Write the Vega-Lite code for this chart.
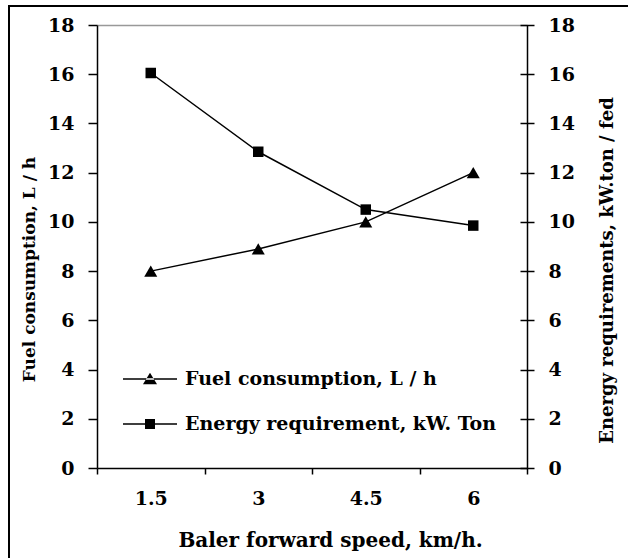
{
  "$schema": "https://vega.github.io/schema/vega-lite/v6.json",
  "autosize": "none",
  "padding": {"left": 9, "top": 6, "right": 0, "bottom": 0},
  "width": 640,
  "height": 560,
  "background": "white",
  "config": {
    "view": {"stroke": "black", "strokeWidth": 2},
    "axis": {
      "labelFont": "DejaVu Serif",
      "labelFontWeight": "bold",
      "labelFontSize": 19,
      "labelColor": "black",
      "titleFont": "DejaVu Serif",
      "titleFontWeight": "bold",
      "titleFontSize": 17,
      "titleColor": "black",
      "domainColor": "black",
      "domainWidth": 1.5,
      "tickColor": "black",
      "tickWidth": 1.5,
      "grid": false
    }
  },
  "data": {
    "values": [
      {"speed": "1.5", "series": "Fuel consumption, L / h", "value": 8},
      {"speed": "3", "series": "Fuel consumption, L / h", "value": 8.9},
      {"speed": "4.5", "series": "Fuel consumption, L / h", "value": 10},
      {"speed": "6", "series": "Fuel consumption, L / h", "value": 12},
      {"speed": "1.5", "series": "Energy requirement, kW. Ton", "value": 16.05},
      {"speed": "3", "series": "Energy requirement, kW. Ton", "value": 12.85},
      {"speed": "4.5", "series": "Energy requirement, kW. Ton", "value": 10.5},
      {"speed": "6", "series": "Energy requirement, kW. Ton", "value": 9.85}
    ]
  },
  "layer": [
    {
      "transform": [{"filter": "datum.series === 'Fuel consumption, L / h'"}],
      "encoding": {
        "x": {
          "field": "speed", "type": "nominal", "sort": ["1.5", "3", "4.5", "6"], "bandPosition": 0.5,
          "scale": {"type": "band", "range": [88, 518], "paddingInner": 0, "paddingOuter": 0},
          "axis": {
            "orient": "bottom", "offset": -98, "labelAngle": 0, "tickBand": "extent",
            "tickSize": 6, "labelPadding": 15,
            "title": "Baler forward speed, km/h.", "titleFontSize": 20,
            "titleX": 321, "titleY": 72, "titleBaseline": "middle", "titleAlign": "center"
          }
        },
        "y": {
          "field": "value", "type": "quantitative",
          "scale": {"domain": [0, 18], "range": [462, 19], "nice": false},
          "axis": {
            "orient": "left", "offset": -88, "values": [0, 2, 4, 6, 8, 10, 12, 14, 16, 18],
            "tickSize": 9, "labelPadding": 14,
            "title": "Fuel consumption, L / h",
            "titleAngle": 270, "titleX": -68, "titleY": 263, "titleBaseline": "middle", "titleAlign": "center"
          }
        }
      },
      "layer": [
        {"mark": {"type": "line", "color": "black", "strokeWidth": 1.5}},
        {"mark": {"type": "point", "shape": "triangle-up", "filled": true, "color": "black", "size": 170, "opacity": 1}}
      ]
    },
    {
      "transform": [{"filter": "datum.series === 'Energy requirement, kW. Ton'"}],
      "encoding": {
        "x": {
          "field": "speed", "type": "nominal", "sort": ["1.5", "3", "4.5", "6"], "bandPosition": 0.5,
          "scale": {"type": "band", "range": [88, 518], "paddingInner": 0, "paddingOuter": 0},
          "axis": null
        },
        "y": {
          "field": "value", "type": "quantitative",
          "scale": {"domain": [0, 18], "range": [462, 19], "nice": false},
          "axis": {
            "orient": "right", "offset": -129, "values": [0, 2, 4, 6, 8, 10, 12, 14, 16, 18],
            "domain": false, "tickSize": 14, "labelPadding": 14,
            "title": "Energy requirements, kW.ton / fed", "titleFontSize": 18,
            "titleAngle": 270, "titleX": 87, "titleY": 264, "titleBaseline": "middle", "titleAlign": "center"
          }
        }
      },
      "layer": [
        {"mark": {"type": "line", "color": "black", "strokeWidth": 1.5}},
        {"mark": {"type": "point", "shape": "square", "filled": true, "color": "black", "size": 110, "opacity": 1}}
      ]
    },
    {
      "mark": {"type": "point", "filled": true, "color": "black", "opacity": 0},
      "encoding": {
        "x": {
          "field": "speed", "type": "nominal", "sort": ["1.5", "3", "4.5", "6"], "bandPosition": 0.5,
          "scale": {"type": "band", "range": [88, 518], "paddingInner": 0, "paddingOuter": 0},
          "axis": {"orient": "top", "offset": -19, "domainColor": "#999999", "domainWidth": 1.5, "ticks": false, "labels": false, "title": null}
        },
        "y": {
          "field": "value", "type": "quantitative",
          "scale": {"domain": [0, 18], "range": [462, 19], "nice": false},
          "axis": {"orient": "right", "offset": -122, "ticks": false, "labels": false, "title": null}
        },
        "shape": {
          "field": "series", "type": "nominal",
          "scale": {
            "domain": ["Fuel consumption, L / h", "Energy requirement, kW. Ton"],
            "range": [
              "M-1,-0.028L1,-0.028L1,0.028L-1,0.028ZM-0.26,0.19L0.26,0.19L0,-0.23Z",
              "M-1,-0.028L1,-0.028L1,0.028L-1,0.028ZM-0.185,-0.185L0.185,-0.185L0.185,0.185L-0.185,0.185Z"
            ]
          },
          "legend": {
            "orient": "none", "legendX": 114, "legendY": 363, "title": null, "padding": 0,
            "symbolSize": 2916, "symbolOpacity": 1, "symbolFillColor": "black", "symbolStrokeColor": "black",
            "symbolStrokeWidth": 0, "clipHeight": 20, "rowPadding": 25, "labelOffset": 8,
            "labelFont": "DejaVu Serif", "labelFontWeight": "bold", "labelFontSize": 19, "labelColor": "black",
            "labelLimit": 600,
            "encode": {
              "symbols": {
                "update": {
                  "fill": {"value": "black"},
                  "opacity": {"value": 1}
                }
              }
            }
          }
        }
      }
    }
  ]
}
